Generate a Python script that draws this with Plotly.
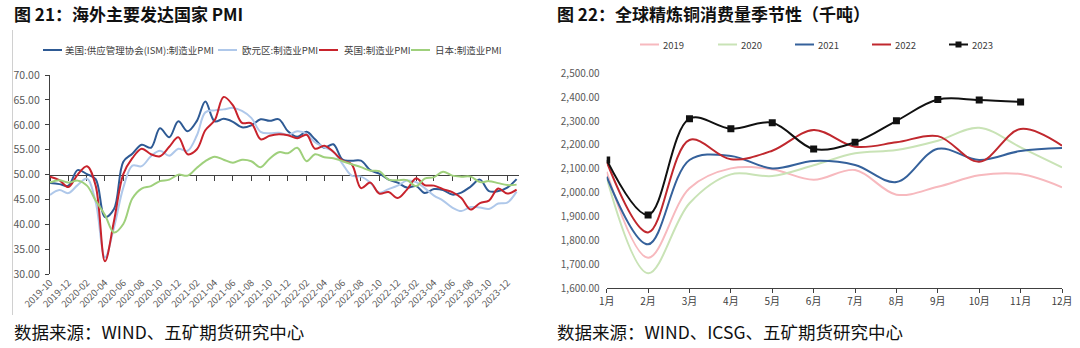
import pandas as pd
import plotly.graph_objects as go

W, H = 1080, 348

# ---------------- data: left chart (monthly PMI 2019-10 .. 2024-01) ----------------
months = pd.date_range("2019-10-01", "2024-01-01", freq="MS").strftime("%Y-%m-%d").tolist()

us_ism = [48.3, 48.1, 47.8, 50.9, 50.1, 49.1, 41.5, 43.1, 52.6, 54.2, 56.0, 55.4, 59.3, 57.5, 60.7,
          58.7, 60.8, 64.7, 60.7, 61.2, 60.6, 59.5, 59.9, 61.1, 60.8, 61.1, 58.7,
          57.6, 58.6, 57.1, 55.4, 56.1, 53.0, 52.8, 52.8, 50.9, 50.2, 49.0, 48.4,
          47.4, 47.7, 46.3, 47.1, 46.9, 46.0, 46.4, 47.6, 49.0, 46.7, 46.7, 47.4, 49.1]
euro_pmi = [45.9, 46.9, 46.3, 47.9, 49.2, 44.5, 33.4, 39.4, 47.4, 51.8, 51.7, 53.7, 54.8, 53.8, 55.2,
            54.8, 57.9, 62.5, 62.9, 63.1, 63.4, 62.8, 61.4, 58.6, 58.3, 58.4, 58.0,
            58.7, 58.2, 56.5, 55.5, 54.6, 52.1, 49.8, 49.6, 48.4, 46.4, 47.1, 47.8,
            48.8, 48.5, 47.3, 45.8, 44.8, 43.4, 42.7, 43.5, 43.4, 43.1, 44.2, 44.4, 46.6]
uk_pmi = [49.6, 48.9, 47.5, 50.0, 51.7, 47.8, 32.6, 40.7, 50.1, 53.3, 55.2, 54.1, 53.7, 55.6, 57.5,
          54.1, 55.1, 58.9, 60.9, 65.6, 63.9, 60.4, 60.3, 57.1, 57.8, 58.1, 57.9,
          57.3, 58.0, 55.2, 55.8, 54.6, 52.8, 52.1, 47.3, 48.4, 46.2, 46.5, 45.3,
          47.0, 49.3, 47.9, 47.8, 47.1, 46.5, 45.3, 43.0, 44.3, 44.8, 47.2, 46.2, 47.0]
jp_pmi = [48.4, 48.9, 48.4, 48.8, 47.8, 44.8, 41.9, 38.4, 40.1, 45.2, 47.2, 47.7, 48.7, 49.0, 50.0,
          49.8, 51.4, 52.7, 53.6, 53.0, 52.4, 53.0, 52.7, 51.5, 53.2, 54.5, 54.3,
          55.4, 52.7, 54.1, 53.5, 53.3, 52.7, 52.1, 51.5, 50.8, 50.7, 49.0, 48.9,
          48.9, 47.7, 49.2, 49.5, 50.6, 49.8, 49.6, 49.6, 48.5, 48.7, 48.3, 47.9, 48.0]

left_names = ["美国:供应管理协会(ISM):制造业PMI", "欧元区:制造业PMI", "英国:制造业PMI", "日本:制造业PMI"]
left_colors = ["#2E5A94", "#AFC8EA", "#C8232C", "#9FD07C"]

# ---------------- data: right chart (refined copper consumption, kt) ----------------
cal_months = ["1月", "2月", "3月", "4月", "5月", "6月", "7月", "8月", "9月", "10月", "11月", "12月"]
cons_2019 = [2088, 1728, 2019, 2102, 2098, 2054, 2095, 1992, 2025, 2073, 2078, 2023]
cons_2020 = [2063, 1663, 1956, 2077, 2070, 2115, 2165, 2179, 2218, 2272, 2190, 2106]
cons_2021 = [2067, 1784, 2137, 2154, 2102, 2133, 2116, 2045, 2184, 2137, 2175, 2187]
cons_2022 = [2130, 1834, 2221, 2140, 2176, 2263, 2193, 2211, 2237, 2130, 2267, 2197]
cons_2023 = [2137, 1907, 2310, 2268, 2293, 2183, 2211, 2301, 2390, 2388, 2380]

right_names = ["2019", "2020", "2021", "2022", "2023"]
right_colors = ["#F7B9BE", "#C9E3B6", "#35619B", "#C0282E", "#111111"]

FONT = "Noto Sans CJK SC"

def px(x):
    return x / W

def py(y):
    return 1 - y / H

# plot-area geometry (pixels)
L_X0, L_X1 = 50, 519
L_YTOP, L_YBOT = 75, 274.3
R_X0, R_X1 = 606.7, 1062
R_YTOP, R_YBOT = 73.3, 288.3

ly_dom = [py(L_YBOT), py(L_YTOP)]
ry_dom = [py(R_YBOT), py(R_YTOP)]
L_YMIN, L_YMAX = 30, 70
pos50 = ly_dom[0] + (50 - L_YMIN) / (L_YMAX - L_YMIN) * (ly_dom[1] - ly_dom[0])

fig = go.Figure()

for name, vals, col in zip(left_names, [us_ism, euro_pmi, uk_pmi, jp_pmi], left_colors):
    fig.add_trace(go.Scatter(x=months, y=vals, name=name, mode="lines",
                             line=dict(color=col, width=2, shape="spline", smoothing=1),
                             xaxis="x", yaxis="y", showlegend=False))

# helper (empty) trace so the 50-line axis is rendered
fig.add_trace(go.Scatter(x=months[:1], y=[None], xaxis="x3", yaxis="y",
                         showlegend=False, hoverinfo="skip"))

for name, vals, col in zip(right_names, [cons_2019, cons_2020, cons_2021, cons_2022, cons_2023], right_colors):
    is23 = name == "2023"
    fig.add_trace(go.Scatter(x=cal_months[:len(vals)], y=vals, name=name,
                             mode="lines+markers" if is23 else "lines",
                             marker=dict(symbol="square", size=7, color=col),
                             line=dict(color=col, width=2, shape="spline", smoothing=1),
                             xaxis="x2", yaxis="y2", showlegend=False))

x_end = "2024-01-09"
axis_col = "#404040"
lab_col = "#595959"

fig.update_layout(
    width=W, height=H,
    margin=dict(l=0, r=0, t=0, b=0, pad=0, autoexpand=False),
    showlegend=False,
    paper_bgcolor="white", plot_bgcolor="rgba(0,0,0,0)",
    font=dict(family=FONT, color=lab_col, size=10),
    xaxis=dict(domain=[px(L_X0), px(L_X1)], anchor="y", type="date", automargin=False,
               range=[months[0], x_end], tick0=months[0], dtick="M2", tickformat="%Y-%m",
               tickangle=-45, showline=False, ticks="", showgrid=False, zeroline=False,
               tickfont=dict(size=9.5, color=lab_col, family=FONT)),
    xaxis3=dict(domain=[px(L_X0), px(L_X1)], anchor="free", position=pos50, overlaying="x",
                type="date", range=[months[0], x_end], tick0=months[0], dtick="M2", automargin=False,
                showticklabels=False, showline=True, linecolor=axis_col, linewidth=1.3,
                ticks="outside", ticklen=5, tickcolor=axis_col, tickwidth=1.2,
                showgrid=False, zeroline=False, layer="below traces"),
    yaxis=dict(domain=ly_dom, anchor="x", range=[L_YMIN, L_YMAX], dtick=5, tick0=30, automargin=False,
               tickformat=".2f", showline=True, linecolor=axis_col, linewidth=1.3,
               ticks="outside", ticklen=4, tickcolor=axis_col, showgrid=False, zeroline=False,
               ticklabelstandoff=3, tickfont=dict(size=10.5, color=lab_col, family=FONT)),
    xaxis2=dict(domain=[px(R_X0), px(R_X1)], anchor="y2", type="category", automargin=False,
                range=[0, 11], showline=True, linecolor=axis_col, linewidth=1.3,
                ticks="outside", ticklen=4, tickcolor=axis_col, showgrid=False, zeroline=False,
                tickfont=dict(size=10, color="#404040", family=FONT)),
    yaxis2=dict(domain=ry_dom, anchor="x2", range=[1600, 2500], dtick=100, tick0=1600, automargin=False,
                tickformat=",.2f", showline=False, ticks="", showgrid=False, zeroline=False,
                ticklabelstandoff=6, tickfont=dict(size=10, color=lab_col, family=FONT)),
)

shapes = []
annotations = []

# left chart frame line
shapes.append(dict(type="line", xref="paper", yref="paper", x0=px(12.5), x1=px(12.5),
                   y0=py(30), y1=py(315), line=dict(color="#D0D0D0", width=1)))

# manual legend: left
left_leg = [(43, 62, 63), (218, 237, 240), (319, 338, 342), (411, 430, 433)]
for (a, b, t), name, col in zip(left_leg, left_names, left_colors):
    shapes.append(dict(type="line", xref="paper", yref="paper", x0=px(a), x1=px(b),
                       y0=py(50), y1=py(50), line=dict(color=col, width=2)))
    annotations.append(dict(xref="paper", yref="paper", x=px(t), y=py(50), text=name,
                            showarrow=False, xanchor="left", yanchor="middle",
                            font=dict(size=9.5, color="#404040", family=FONT)))

# manual legend: right
right_leg = [(640, 659, 661), (718, 737, 739), (795, 814, 816), (872, 891, 893), (949, 968, 970)]
for (a, b, t), name, col in zip(right_leg, right_names, right_colors):
    shapes.append(dict(type="line", xref="paper", yref="paper", x0=px(a), x1=px(b),
                       y0=py(44.5), y1=py(44.5), line=dict(color=col, width=2)))
    if name == "2023":
        mx = (a + b) / 2
        shapes.append(dict(type="rect", xref="paper", yref="paper", x0=px(mx - 3), x1=px(mx + 3),
                           y0=py(47.5), y1=py(41.5), fillcolor=col, line=dict(width=0)))
    annotations.append(dict(xref="paper", yref="paper", x=px(t), y=py(44.5), text=name,
                            showarrow=False, xanchor="left", yanchor="middle",
                            font=dict(size=9.5, color="#404040", family=FONT)))

# titles
annotations.append(dict(xref="paper", yref="paper", x=px(12), y=py(13.5),
                        text="<b>图 21：海外主要发达国家 PMI</b>", showarrow=False,
                        xanchor="left", yanchor="middle",
                        font=dict(size=17, color="#111111", family=FONT)))
annotations.append(dict(xref="paper", yref="paper", x=px(555), y=py(13.5),
                        text="<b>图 22：全球精炼铜消费量季节性（千吨）</b>", showarrow=False,
                        xanchor="left", yanchor="middle",
                        font=dict(size=17, color="#111111", family=FONT)))
# sources
annotations.append(dict(xref="paper", yref="paper", x=px(12), y=py(331),
                        text="数据来源：WIND、五矿期货研究中心", showarrow=False,
                        xanchor="left", yanchor="middle",
                        font=dict(size=17.5, color="#111111", family=FONT)))
annotations.append(dict(xref="paper", yref="paper", x=px(555), y=py(331),
                        text="数据来源：WIND、ICSG、五矿期货研究中心", showarrow=False,
                        xanchor="left", yanchor="middle",
                        font=dict(size=17.5, color="#111111", family=FONT)))

fig.update_layout(shapes=shapes, annotations=annotations)
fig.write_html("out.html")
